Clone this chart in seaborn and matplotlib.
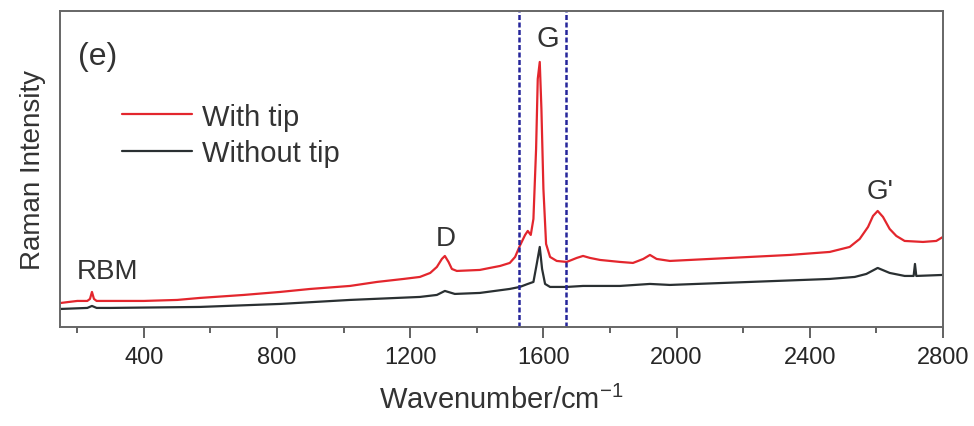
import pandas as pd
import matplotlib
matplotlib.use("Agg")
import matplotlib.pyplot as plt
import seaborn as sns
from matplotlib.ticker import MultipleLocator

# values (intensity in arbitrary units)
wn_tip = [151, 175, 200, 230, 238, 244, 250, 258, 300, 400, 500, 568, 700, 809,
          900, 1019, 1100, 1180, 1229, 1260, 1280, 1295, 1304, 1315, 1325, 1340,
          1409, 1439, 1470, 1499, 1515, 1529, 1545, 1553, 1562, 1570, 1578, 1583,
          1589, 1594, 1600, 1608, 1620, 1640, 1670, 1700, 1719, 1740, 1770, 1830,
          1869, 1900, 1920, 1940, 1980, 2100, 2220, 2340, 2460, 2520, 2550, 2575,
          2590, 2604, 2620, 2640, 2660, 2685, 2740, 2780, 2800]
int_tip = [24, 25, 26, 26, 28, 35, 28, 26, 26, 26, 27, 29, 32, 35,
           38, 41, 45, 48, 50, 54, 60, 68, 71, 65, 58, 56,
           57, 59, 61, 64, 70, 81, 92, 96, 92, 108, 178, 248,
           265, 218, 138, 83, 70, 66, 65, 69, 71, 69, 67, 65,
           64, 68, 72, 68, 66, 68, 70, 72, 75, 80, 88, 100,
           111, 116, 110, 98, 91, 86, 85, 86, 90]

wn_notip = [151, 230, 244, 258, 300, 568, 809, 1019, 1229, 1280, 1304, 1334,
            1409, 1499, 1529, 1553, 1570, 1580, 1589, 1596, 1605, 1620, 1670,
            1719, 1830, 1920, 1980, 2220, 2460, 2535, 2570, 2604, 2640, 2685,
            2712, 2716, 2720, 2800]
int_notip = [18, 19, 21, 19, 19, 20, 23, 27, 30, 32, 36, 33,
             34, 38, 40, 43, 45, 63, 80, 58, 43, 40, 40,
             41, 41, 43, 42, 45, 48, 50, 53, 59, 54, 51,
             51, 63, 51, 52]

labels = ["With tip", "Without tip"]
colors = ["#e3262d", "#2a3032"]
window = [1527, 1667]

df = pd.concat([
    pd.DataFrame({"wn": wn_tip, "I": int_tip, "s": labels[0]}),
    pd.DataFrame({"wn": wn_notip, "I": int_notip, "s": labels[1]}),
])

sns.set_style("white")
plt.rcParams["font.family"] = ["Liberation Sans", "DejaVu Sans"]
plt.rcParams["mathtext.fontset"] = "custom"
plt.rcParams["mathtext.rm"] = "Liberation Sans"
plt.rcParams["mathtext.it"] = "Liberation Sans"

fig = plt.figure(figsize=(9.74, 4.27), dpi=100)
ax = fig.add_axes([0.0616, 0.232, 0.9065, 0.74])

sns.lineplot(data=df, x="wn", y="I", hue="s", palette=colors, sort=False,
             linewidth=1.6, ax=ax)

for w in window:
    ax.axvline(w, color="#25259a", linestyle=(0, (2, 1)), linewidth=1.8)

ax.set_xlim(148, 2800)
ax.set_ylim(0, 316)
ax.xaxis.set_major_locator(MultipleLocator(400))
ax.xaxis.set_minor_locator(MultipleLocator(200))
ax.set_yticks([])
ax.tick_params(axis="x", which="major", direction="out", length=8, width=1.3,
               color="#555555", labelsize=17, pad=6, bottom=True)
ax.tick_params(axis="x", which="minor", direction="out", length=4, width=1.3,
               color="#555555", bottom=True)
for sp in ax.spines.values():
    sp.set_color("#666666")
    sp.set_linewidth(1.4)

ax.set_xlabel("Wavenumber/cm$^{-1}$", fontsize=21, color="#333333", labelpad=12)
ax.set_ylabel("Raman Intensity", fontsize=20, color="#333333", labelpad=10)

txt = dict(color="#333333", ha="center", va="center")
ax.text(202, 271, "(e)", fontsize=23, color="#333333", ha="left", va="center")
ax.text(292, 56, "RBM", fontsize=20, **txt)
ax.text(1307, 89, "D", fontsize=20, **txt)
ax.text(1612, 289, "G", fontsize=21, **txt)
ax.text(2610, 136, "G'", fontsize=20, **txt)

leg = ax.legend(loc="upper left", bbox_to_anchor=(0.07, 0.71), frameon=False,
                fontsize=21, handlelength=2.4, handletextpad=0.35,
                labelspacing=0.3, borderpad=0, borderaxespad=0)
for t in leg.get_texts():
    t.set_color("#333333")

fig.savefig("out.png", dpi=100)
